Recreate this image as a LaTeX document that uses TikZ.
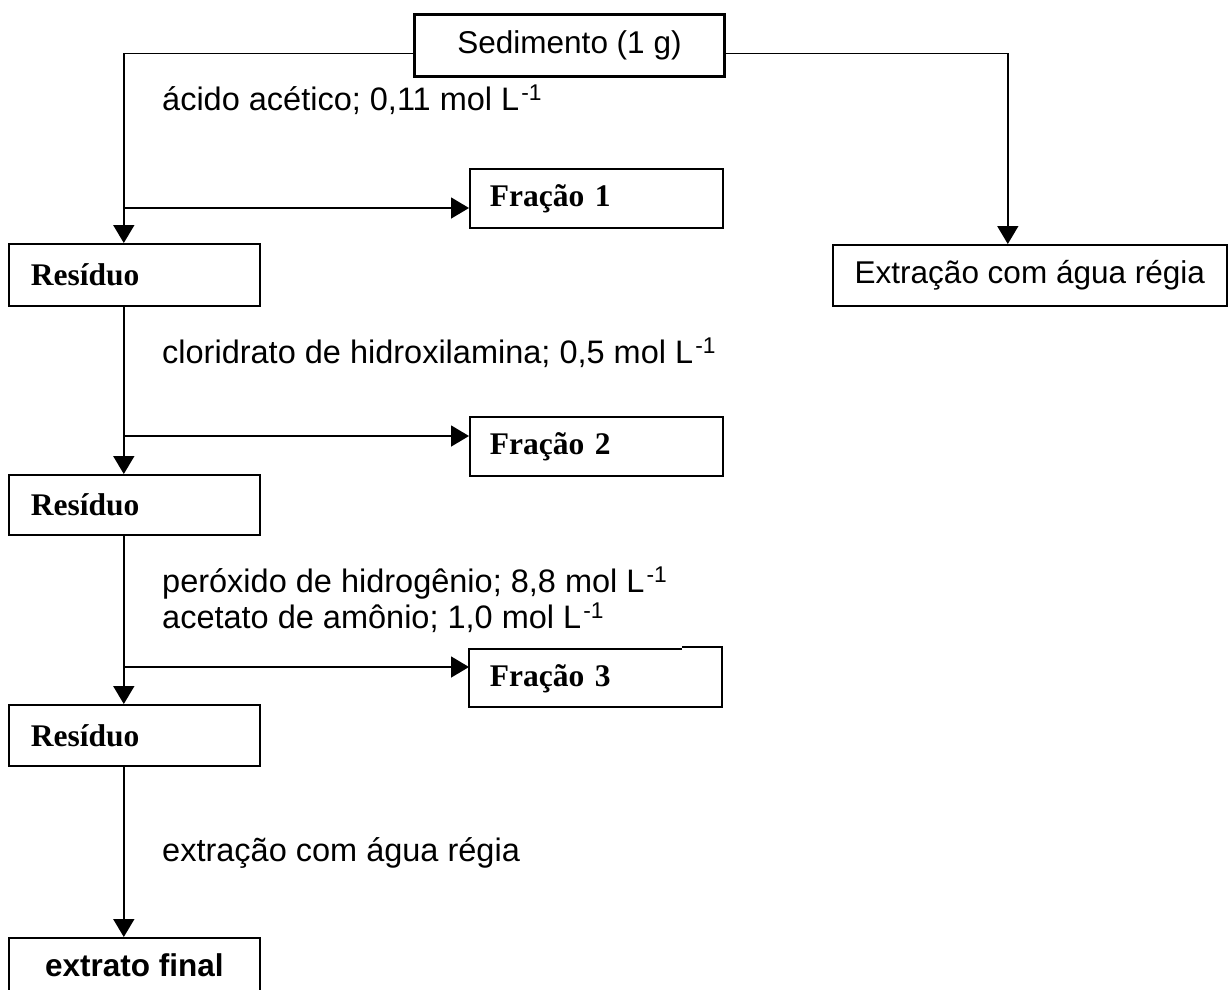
\documentclass[tikz,border=0pt]{standalone}
\usepackage{fontspec}
\setmainfont{Liberation Sans}
\newfontfamily\timesf{Liberation Serif}
\usetikzlibrary{arrows.meta}
\newcommand{\molL}{mol L\kern2pt\textsuperscript{-1}}
\begin{document}
\begin{tikzpicture}[x=1pt,y=-1pt,
 box/.style={draw, line width=1.6pt, inner sep=0pt, anchor=north west, font=\fontsize{31.5}{36}\selectfont},
 tbox/.style={box, font=\timesf\bfseries\fontsize{31.5}{36}\selectfont, align=left},
 lbl/.style={anchor=base west, inner sep=0pt, font=\fontsize{32.5}{38}\selectfont},
 arr/.style={line width=1.6pt, -{Triangle[length=18pt,width=21pt]}},
 ln/.style={line width=1.6pt}]
\useasboundingbox (0,0) rectangle (1228,989);
\clip (0,0) rectangle (1228,989);

% boxes
\node[box, line width=3pt, minimum width=310pt, minimum height=62pt] (top) at (413,13) {Sedimento (1 g)};
\node[tbox, inner xsep=20pt, text width=213pt, minimum height=59pt] (f1) at (469,168) {Fração 1};
\node[tbox, inner xsep=22pt, text width=207pt, minimum height=62pt] (r1) at (8,243) {Resíduo};
\node[box, minimum width=394pt, minimum height=61pt] (ex) at (832,244) {Extração com água régia};
\node[tbox, inner xsep=20pt, text width=213pt, minimum height=59pt] (f2) at (469,416) {Fração 2};
\node[tbox, inner xsep=22pt, text width=207pt, minimum height=60pt] (r2) at (8,474) {Resíduo};
\node[tbox, draw=none, inner xsep=20pt, text width=213pt, minimum height=58pt] (f3) at (469,649) {Fração 3};
\draw[ln] (682,647) -- (722,647) -- (722,707) -- (469,707) -- (469,649) -- (682,649);
\node[tbox, inner xsep=22pt, text width=207pt, minimum height=61pt] (r3) at (8,704) {Resíduo};
\node[box, font=\bfseries\fontsize{31.5}{36}\selectfont, minimum width=251pt, minimum height=54pt] (fin) at (8,937) {extrato final};

% labels
\node[lbl] (t1) at (162,110) {ácido acético; 0,11 \molL};
\node[lbl] (t2) at (162,363) {cloridrato de hidroxilamina; 0,5 \molL};
\node[lbl] (t3) at (162,592) {peróxido de hidrogênio; 8,8 \molL};
\node[lbl] (t4) at (162,628) {acetato de amônio; 1,0 \molL};
\node[lbl] (t5) at (162,861) {extração com água régia};

% connectors
\draw[arr] ([yshift=-8pt]top.west) -| ([xshift=-10.5pt]r1.north);
\draw[arr] ([yshift=-8pt]top.east) -| ([xshift=-22pt]ex.north);
\coordinate (j1) at (123,208);
\draw[arr] (j1) -- (j1 -| f1.west);
\draw[arr] ([xshift=-10.5pt]r1.south) -- ([xshift=-10.5pt]r2.north);
\coordinate (j2) at (123,436);
\draw[arr] (j2) -- (j2 -| f2.west);
\draw[arr] ([xshift=-10.5pt]r2.south) -- ([xshift=-10.5pt]r3.north);
\coordinate (j3) at (123,667);
\draw[arr] (j3) -- (j3 -| f3.west);
\draw[arr] ([xshift=-10.5pt]r3.south) -- ([xshift=-10.5pt]fin.north);
\end{tikzpicture}
\end{document}
